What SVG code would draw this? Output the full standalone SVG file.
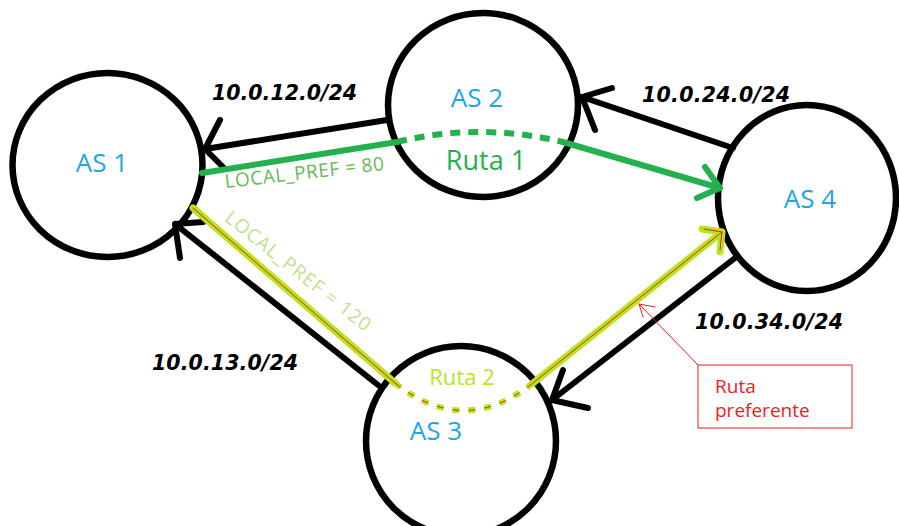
<svg xmlns="http://www.w3.org/2000/svg" width="899" height="526" viewBox="0 0 899 526">
  <style>
    .node { fill: #ffffff; stroke: #000000; stroke-width: 6.5; }
    .as { font-family: "Open Sans", "Liberation Sans", sans-serif; font-size: 26px; fill: #1ea5e6; text-anchor: middle; }
    .net { font-family: "DejaVu Sans", sans-serif; font-size: 20.5px; font-weight: bold; font-style: italic; fill: #000000; }
    .link { fill: none; stroke: #000000; stroke-width: 6; stroke-linecap: round; stroke-linejoin: round; }
    .r1 { fill: none; stroke: #22b14c; stroke-width: 6; stroke-linecap: round; stroke-linejoin: round; }
    .r1d { fill: none; stroke: #22b14c; stroke-width: 6; stroke-dasharray: 10 8; }
    .r2 { fill: none; stroke: #b5e61d; stroke-width: 7; stroke-linecap: round; stroke-linejoin: round; }
    .r2d { fill: none; stroke: #b5e61d; stroke-width: 6; stroke-dasharray: 7 9; }
    .red { fill: none; stroke: #ed1c24; stroke-width: 1; stroke-linecap: round; stroke-linejoin: round; }
    .redd { fill: none; stroke: #ed1c24; stroke-width: 1; stroke-dasharray: 7 9; }
    .pref { font-family: "Open Sans", "Liberation Sans", sans-serif; font-size: 19px; }
    .callout { font-family: "Open Sans", "Liberation Sans", sans-serif; font-size: 19px; fill: #ed1c24; }
  </style>

  <!-- autonomous systems -->
  <g id="as1">
    <ellipse class="node" cx="107.5" cy="165" rx="95" ry="92"/>
    <text class="as" x="102" y="172">AS 1</text>
  </g>
  <g id="as2">
    <ellipse class="node" cx="483" cy="105" rx="95" ry="92"/>
    <text class="as" x="477" y="107">AS 2</text>
  </g>
  <g id="as3">
    <ellipse class="node" cx="461" cy="441" rx="95" ry="95"/>
    <text class="as" x="436" y="440">AS 3</text>
  </g>
  <g id="as4">
    <ellipse class="node" cx="807" cy="198" rx="89" ry="93"/>
    <text class="as" x="810" y="208">AS 4</text>
  </g>

  <!-- links, advertised prefixes and routes -->
  <g id="connectors">
    <!-- AS2 -> AS1 -->
    <path class="link" d="M387,120 L205,149 M220,120 L205,149 L223,167"/>
    <!-- AS4 -> AS2 -->
    <path class="link" d="M733,148 L582,97 M612,88 L582,97 L595,130"/>
    <!-- AS4 -> AS3 -->
    <path class="link" d="M735,258 L552,400 M563,370 L552,400 L588,408"/>
    <!-- AS3 -> AS1 -->
    <path class="link" d="M378,385 L175,224 M180,258 L175,224 L203,222"/>

    <!-- Ruta 1 (via AS2) -->
    <path class="r1" d="M202,173 L397,142"/>
    <path class="r1d" d="M397,142 Q480,122 563,142"/>
    <path class="r1" d="M563,142 L720,188 M705,167 L720,188 L697,198"/>

    <!-- Ruta 2 (via AS3, preferred) -->
    <path class="r2" d="M193,208 L395,383"/>
    <path class="r2d" d="M395,383 Q464,438 533,383"/>
    <path class="r2" d="M533,383 L722,232 M702,229 L722,232 L720,252"/>
    <path class="red" d="M193,208 L395,383"/>
    <path class="redd" d="M395,383 Q464,438 533,383"/>
    <path class="red" d="M533,383 L722,232 M704,229 L722,232 L720,250"/>

    <!-- prefix labels -->
    <text class="net" x="212" y="100" textLength="145">10.0.12.0/24</text>
    <text class="net" x="642" y="102" textLength="148">10.0.24.0/24</text>
    <text class="net" x="152" y="370" textLength="146">10.0.13.0/24</text>
    <text class="net" x="695" y="329" textLength="148">10.0.34.0/24</text>

    <!-- route labels -->
    <text class="as" x="486" y="170" style="fill:#22b14c;font-size:27px">Ruta 1</text>
    <text class="as" x="462" y="385" style="fill:#b5e61d;font-size:22px">Ruta 2</text>
    <text class="pref" x="305" y="179" text-anchor="middle" textLength="160" fill="#5fbb55" transform="rotate(-6.5 305 179)">LOCAL_PREF = 80</text>
    <text class="pref" x="294" y="276" text-anchor="middle" textLength="180" fill="#bde38a" transform="rotate(38.5 294 276)">LOCAL_PREF = 120</text>
  </g>

  <!-- callout for the preferred route -->
  <g id="callout">
    <path class="red" d="M698,365 L639,304 M655,307 L639,304 L643,317"/>
    <rect x="698" y="365" width="154" height="63" fill="#ffffff" stroke="#ed1c24" stroke-width="1"/>
    <text class="callout" x="715" y="393">Ruta</text>
    <text class="callout" x="715" y="417">preferente</text>
  </g>
</svg>
